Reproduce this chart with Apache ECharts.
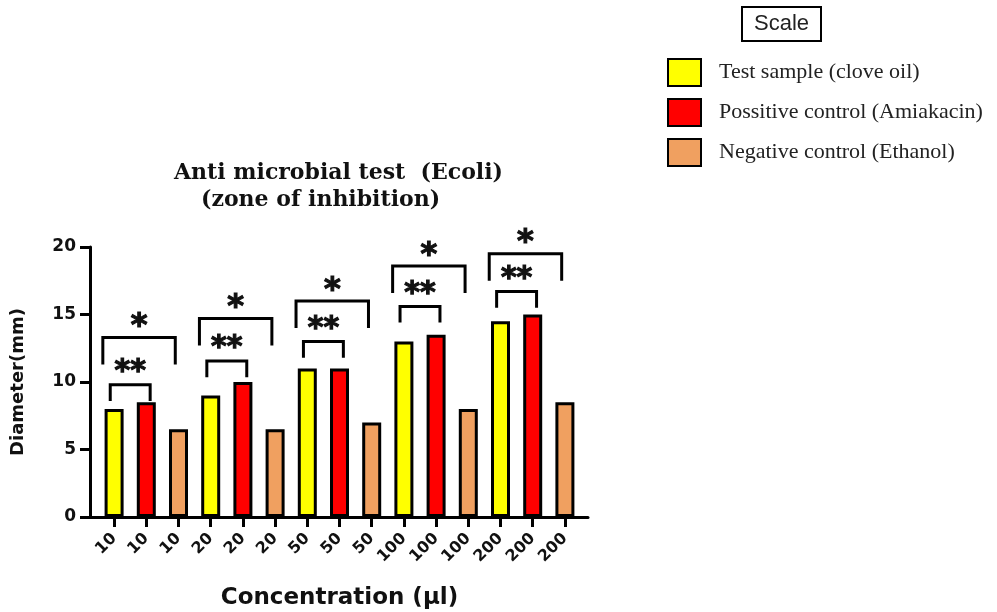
<!DOCTYPE html>
<html>
<head>
<meta charset="utf-8">
<script src="https://cdn.jsdelivr.net/npm/echarts@6/dist/echarts.min.js"></script>
<style>
html,body{margin:0;padding:0;background:#fff}
#chart{width:997px;height:612px}
</style>
</head>
<body>
<div id="chart"></div>
<script>
const categories=["10","10","10","20","20","20","50","50","50","100","100","100","200","200","200"];
const seriesNames=["Test sample (clove oil)","Possitive control (Amiakacin)","Negative control (Ethanol)"];
const testSample=[8,9,11,13,14.5];
const positiveControl=[8.5,10,11,13.5,15];
const negativeControl=[6.5,6.5,7,8,8.5];
const yTicks=[0,5,10,15,20];

// significance brackets: first bar index, last bar index, height of bracket top, label
const smallBrackets=[[0,1,9.8,"**"],[3,4,11.55,"**"],[6,7,13,"**"],[9,10,15.6,"**"],[12,13,16.7,"**"]];
const bigBrackets=[[0,2,13.3,"*"],[3,5,14.7,"*"],[6,8,16,"*"],[9,11,18.6,"*"],[12,14,19.5,"*"]];

const colors=["#ffff00","#ff0000","#f0a060"];
const labels=["*","**"];

function spread(vals,k){
  const out=categories.map(()=>"-");
  vals.forEach((v,i)=>{out[i*3+k]=v;});
  return out;
}

const chart=echarts.init(document.getElementById("chart"));

function bracketItem(kind){
  const small=kind==="small";
  return function(params,api){
    const a=api.value(0),b=api.value(1),h=api.value(2);
    const band=api.size([1,0])[0];
    const leg=small?1.2:2.0;
    const top=api.coord([a,h]);
    const bottom=api.coord([a,h-leg]);
    const x1=top[0]+(small?-0.12:-0.35)*band;
    const x2=api.coord([b,h])[0]+(small?0.12:-0.1)*band;
    const labelY=api.coord([a,h+1.45])[1];
    return {
      type:"group",
      children:[
        {type:"polyline",shape:{points:[[x1,bottom[1]],[x1,top[1]],[x2,top[1]],[x2,bottom[1]]]},
          style:{stroke:"#000",lineWidth:3,fill:null}},
        {type:"text",x:(x1+x2)/2,y:labelY+(small?7:9),
          style:{text:labels[api.value(3)-1],fill:"#111",stroke:"#111",lineWidth:1.2,
            font:small?"bold 30px DejaVu Sans":"bold 32px DejaVu Sans",
            align:"center",verticalAlign:"middle"}}
      ]
    };
  };
}

const barBase={type:"bar",barWidth:19,barGap:"-100%",xAxisIndex:0,yAxisIndex:0};

chart.setOption({
  animation:false,
  title:[
    {text:"Anti microbial test  (Ecoli)",left:174,top:162,padding:0,
      textStyle:{fontFamily:"DejaVu Serif",fontWeight:"bold",fontSize:22,color:"#111"}},
    {text:"(zone of inhibition)",left:201,top:189,padding:0,
      textStyle:{fontFamily:"DejaVu Serif",fontWeight:"bold",fontSize:22,color:"#111"}},
    {text:"Scale",left:742,top:7,padding:[6,12,6,12],borderWidth:2,borderColor:"#000",
      textStyle:{fontFamily:"Liberation Sans",fontWeight:"normal",fontSize:22,color:"#222"}}
  ],
  legend:{
    orient:"vertical",left:662,top:53,itemWidth:33,itemHeight:27,itemGap:11,
    icon:"rect",
    textStyle:{fontFamily:"Liberation Serif",fontSize:22,color:"#222",padding:[0,0,0,13]},
    data:seriesNames
  },
  grid:[
    {left:98,top:247,width:483,height:270},
    {left:90,top:247,width:498,height:270}
  ],
  xAxis:[
    {type:"category",gridIndex:0,data:categories,
      axisLine:{show:false},
      axisTick:{show:true,alignWithLabel:true,length:10,lineStyle:{color:"#000",width:3}},
      axisLabel:{rotate:45,margin:19,color:"#111",fontFamily:"DejaVu Sans",fontWeight:"bold",fontSize:16},
      name:"Concentration (µl)",nameLocation:"middle",nameGap:70,
      nameTextStyle:{fontFamily:"DejaVu Sans",fontWeight:"bold",fontSize:23,color:"#111"}},
    {type:"value",gridIndex:1,min:0,max:1,
      axisLine:{show:true,onZero:false,lineStyle:{color:"#000",width:3}},
      axisTick:{show:false},axisLabel:{show:false},splitLine:{show:false}}
  ],
  yAxis:[
    {type:"value",gridIndex:0,min:0,max:20,interval:5,offset:8,
      axisLine:{show:true,lineStyle:{color:"#000",width:3}},
      axisTick:{show:true,length:10,lineStyle:{color:"#000",width:3}},
      axisLabel:{color:"#111",fontFamily:"DejaVu Sans",fontWeight:"bold",fontSize:17,margin:14,
        formatter:v=>yTicks.includes(v)?String(v):""},
      splitLine:{show:false},
      name:"Diameter(mm)",nameLocation:"middle",nameGap:63,
      nameTextStyle:{fontFamily:"DejaVu Sans",fontWeight:"bold",fontSize:18,color:"#111"}},
    {type:"value",gridIndex:1,min:0,max:1,show:false}
  ],
  series:[
    Object.assign({},barBase,{name:seriesNames[0],data:spread(testSample,0),
      itemStyle:{color:colors[0],borderColor:"#000",borderWidth:3}}),
    Object.assign({},barBase,{name:seriesNames[1],data:spread(positiveControl,1),
      itemStyle:{color:colors[1],borderColor:"#000",borderWidth:3}}),
    Object.assign({},barBase,{name:seriesNames[2],data:spread(negativeControl,2),
      itemStyle:{color:colors[2],borderColor:"#000",borderWidth:3}}),
    {type:"custom",xAxisIndex:0,yAxisIndex:0,clip:false,silent:true,
      renderItem:bracketItem("small"),
      data:smallBrackets.map(d=>[d[0],d[1],d[2],d[3].length])},
    {type:"custom",xAxisIndex:0,yAxisIndex:0,clip:false,silent:true,
      renderItem:bracketItem("big"),
      data:bigBrackets.map(d=>[d[0],d[1],d[2],d[3].length])}
  ]
});
</script>
</body>
</html>
